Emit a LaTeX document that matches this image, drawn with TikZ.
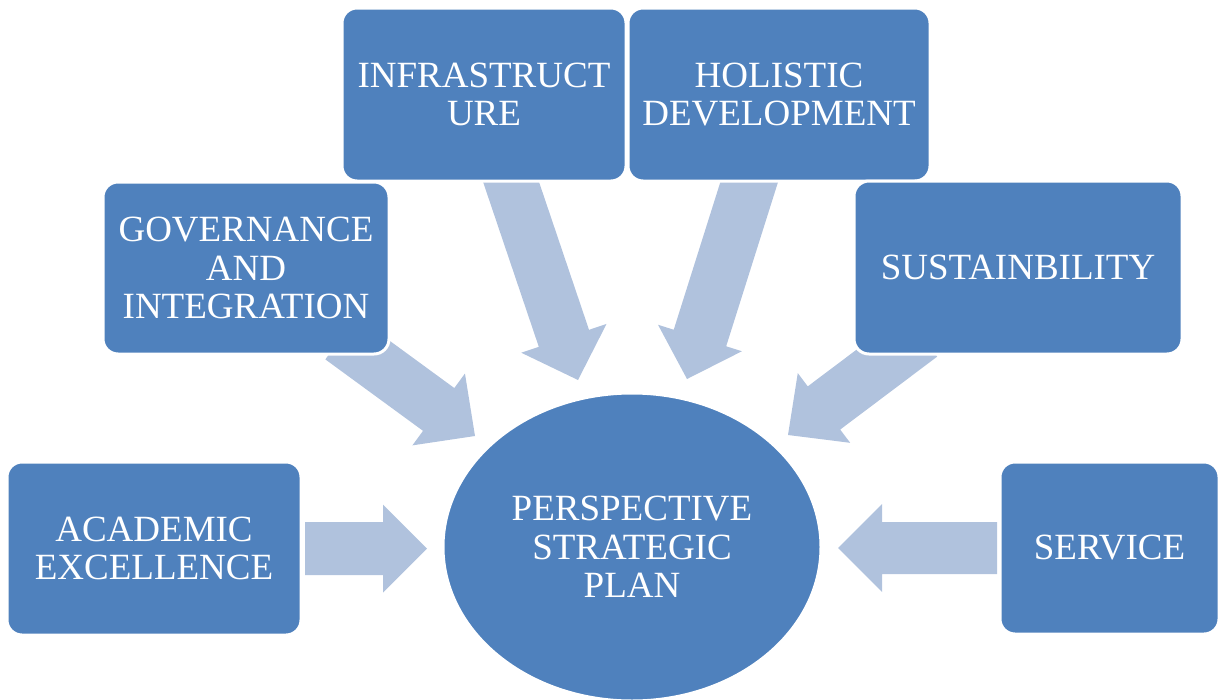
\documentclass[tikz,border=0pt]{standalone}
\usepackage{fontspec}
\setmainfont{Liberation Serif}
\usetikzlibrary{shapes.geometric,calc}
\definecolor{boxblue}{RGB}{79,129,189}
\definecolor{arrowblue}{RGB}{176,194,221}
\tikzset{
  box/.style={rectangle, rounded corners=15pt, fill=boxblue, draw=white, line width=3pt,
    text=white, align=center, font=\fontsize{37}{38.5}\selectfont, inner sep=0pt},
  hub/.style={ellipse, fill=boxblue, draw=white, line width=3pt,
    text=white, align=center, font=\fontsize{37}{38.5}\selectfont, inner sep=0pt},
  arrowfill/.style={fill=arrowblue}
}
% #1 tail, #2 tip, #3 half shaft width, #4 half head width, #5 head length
\newcommand\blockarrow[5]{%
  \coordinate (hb) at ($(#2)!#5!(#1)$);
  \fill[arrowfill] ($(#1)!#3!90:(#2)$) -- ($(hb)!#3!90:(#2)$) -- ($(hb)!#4!90:(#2)$)
    -- (#2) -- ($(hb)!#4!-90:(#2)$) -- ($(hb)!#3!-90:(#2)$) -- ($(#1)!#3!-90:(#2)$) -- cycle;
}
\begin{document}
\begin{tikzpicture}[x=1pt,y=-1pt]
\useasboundingbox (0,0) rectangle (1226,699);
% arrow ends
\coordinate (acadT) at (305,548.5);  \coordinate (acadH) at (427,548.5);
\coordinate (servT) at (997,548);    \coordinate (servH) at (838,548);
\coordinate (govT)  at (341,338);    \coordinate (govH)  at (475,436);
\coordinate (sustT) at (921,335);    \coordinate (sustH) at (788,435);
\coordinate (infT)  at (507,170);    \coordinate (infH)  at (578,380);
\coordinate (holT)  at (753,170);    \coordinate (holH)  at (687,379);
\blockarrow{acadT}{acadH}{26.5pt}{44pt}{44pt}
\blockarrow{servT}{servH}{26pt}{44pt}{44pt}
\blockarrow{govT}{govH}{26.5pt}{44.5pt}{45pt}
\blockarrow{sustT}{sustH}{27pt}{43.6pt}{45pt}
\blockarrow{infT}{infH}{26.5pt}{45pt}{44pt}
\blockarrow{holT}{holH}{27.5pt}{44pt}{43pt}
% boxes
\node[box, minimum width=294pt, minimum height=173pt] (acad) at (154,548.5) {ACADEMIC\\EXCELLENCE};
\node[box, minimum width=286pt, minimum height=172pt] (gov) at (246,268) {GOVERNANCE\\AND\\INTEGRATION};
\node[box, minimum width=284pt, minimum height=173pt] (inf) at (484,94.5) {INFRASTRUCT\\URE};
\node[box, minimum width=302pt, minimum height=173pt] (hol) at (779,94.5) {HOLISTIC\\DEVELOPMENT};
\node[box, minimum width=328pt, minimum height=173pt] (sust) at (1018,267.5) {SUSTAINBILITY};
\node[box, minimum width=219pt, minimum height=172pt] (serv) at (1109.5,548) {SERVICE};
\node[hub, minimum width=378pt, minimum height=308pt] (psp) at (632,547) {PERSPECTIVE\\STRATEGIC\\PLAN};
\end{tikzpicture}
\end{document}
